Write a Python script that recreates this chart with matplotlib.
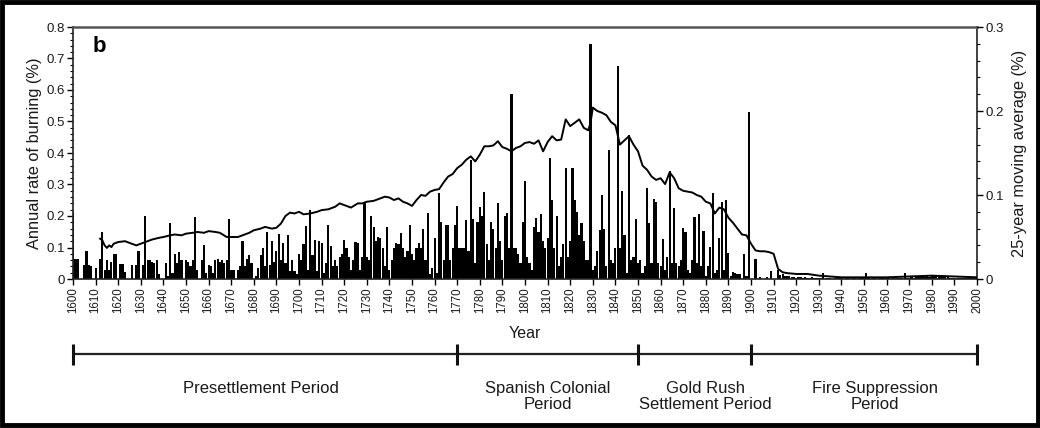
import matplotlib
matplotlib.use("Agg")
import matplotlib.pyplot as plt
from matplotlib.patches import Rectangle
from matplotlib.ticker import MultipleLocator, FuncFormatter
import numpy as np

plt.rcParams['font.family'] = ['Liberation Sans', 'DejaVu Sans']

# ---- data -------------------------------------------------------------
years = list(range(1600, 2001))
burn_rate = (
    [0.214, 0.065, 0.065, 0, 0, 0.045, 0.088, 0.045, 0.04, 0] +
    [0.035, 0, 0.062, 0.15, 0.03, 0.06, 0.03, 0.055, 0.08, 0.078] +
    [0, 0.048, 0.048, 0.022, 0, 0, 0.045, 0, 0.045, 0.09] +
    [0, 0.045, 0.2, 0.06, 0.06, 0.055, 0.05, 0.06, 0.015, 0] +
    [0, 0.05, 0.01, 0.178, 0.02, 0.078, 0.05, 0.085, 0.06, 0] +
    [0.06, 0.055, 0.04, 0.06, 0.197, 0.03, 0, 0.06, 0.108, 0.02] +
    [0.045, 0.04, 0.02, 0.06, 0.065, 0.055, 0.06, 0.05, 0.06, 0.19] +
    [0.03, 0.03, 0, 0.03, 0.04, 0.122, 0.04, 0.065, 0.075, 0.05] +
    [0, 0.01, 0.035, 0.075, 0.097, 0.04, 0.15, 0.045, 0.12, 0.055] +
    [0.088, 0.143, 0.06, 0.115, 0.05, 0.14, 0.025, 0.06, 0.025, 0.015] +
    [0.08, 0.06, 0.11, 0.168, 0.03, 0.22, 0.075, 0.125, 0.025, 0.12] +
    [0.115, 0.02, 0.05, 0.17, 0.105, 0.04, 0.06, 0.04, 0.07, 0.08] +
    [0.124, 0.1, 0.07, 0.03, 0.06, 0.117, 0.115, 0.03, 0.07, 0.24] +
    [0.07, 0.06, 0.2, 0.165, 0.12, 0.133, 0.13, 0.1, 0.04, 0.166] +
    [0.03, 0.06, 0.1, 0.113, 0.11, 0.145, 0.1, 0.07, 0.09, 0.17] +
    [0.08, 0.06, 0.1, 0.115, 0.1, 0.16, 0.06, 0.21, 0.015, 0.035] +
    [0.13, 0.02, 0.272, 0.18, 0.06, 0.17, 0.17, 0.06, 0.1, 0.17] +
    [0.232, 0.1, 0.1, 0.1, 0.187, 0.09, 0.378, 0.19, 0.05, 0.18] +
    [0.23, 0.2, 0.275, 0.11, 0.06, 0.182, 0.16, 0.1, 0.24, 0.12] +
    [0.06, 0.2, 0.208, 0.1, 0.586, 0.1, 0.1, 0.08, 0.05, 0.18] +
    [0.31, 0.071, 0.05, 0.03, 0.166, 0.193, 0.15, 0.206, 0.12, 0.1] +
    [0.13, 0.383, 0.25, 0.1, 0.2, 0.04, 0.07, 0.11, 0.351, 0.07] +
    [0.12, 0.352, 0.25, 0.213, 0.14, 0.178, 0.12, 0.06, 0.06, 0.745] +
    [0.03, 0.04, 0.09, 0.157, 0.267, 0.16, 0.04, 0.41, 0.06, 0.05] +
    [0.1, 0.677, 0.1, 0.28, 0.14, 0.02, 0.457, 0.06, 0.07, 0.19] +
    [0.05, 0.06, 0.02, 0.04, 0.288, 0.177, 0.05, 0.254, 0.245, 0.05] +
    [0.04, 0.126, 0.03, 0.07, 0.344, 0.05, 0.224, 0.05, 0.04, 0.06] +
    [0.163, 0.15, 0.03, 0.02, 0.06, 0.198, 0.05, 0.206, 0.04, 0.152] +
    [0.01, 0.04, 0.103, 0.274, 0.02, 0.03, 0.131, 0.245, 0.03, 0.25] +
    [0.084, 0.01, 0.023, 0.02, 0.015, 0.015, 0, 0.078, 0.01, 0.53] +
    [0, 0, 0.063, 0, 0.005, 0, 0, 0.005, 0, 0.025] +
    [0, 0, 0.03, 0.012, 0.015, 0.01, 0.008, 0.01, 0.005, 0.006] +
    [0.004, 0.005, 0.006, 0.004, 0.005, 0.003, 0.004, 0.005, 0.003, 0.004] +
    [0.003, 0.004, 0.02, 0.003, 0.002, 0.002, 0.001, 0.002, 0.002, 0.002] +
    [0.002, 0.001, 0.002, 0.002, 0.001, 0.002, 0.002, 0.001, 0.002, 0.002] +
    [0.002, 0.018, 0.002, 0.001, 0.002, 0.002, 0.001, 0.002, 0.002, 0.002] +
    [0.002, 0.002, 0.001, 0.002, 0.002, 0.002, 0.003, 0.002, 0.018, 0.004] +
    [0.004, 0.005, 0.004, 0.006, 0.005, 0.006, 0.008, 0.007, 0.008, 0.007] +
    [0.01, 0.009, 0.008, 0.01, 0.009, 0.01, 0.008, 0.005, 0.004, 0.003] +
    [0.003, 0.002, 0.003, 0.002, 0.002, 0.003, 0.002, 0.002, 0.002, 0.002] +
    [0.002]
)

ma_years = [1612, 1613, 1614, 1615, 1616, 1617, 1618, 1620, 1623, 1625, 1628, 1630,
            1633, 1635, 1638, 1640, 1643, 1645, 1648, 1650, 1653, 1655, 1658, 1660,
            1663, 1665, 1668, 1670, 1673, 1675, 1678, 1680, 1683, 1685, 1688, 1690,
            1692, 1694, 1696, 1698, 1700, 1702, 1705, 1708, 1710, 1713, 1716, 1718,
            1720, 1723, 1726, 1728, 1730, 1733, 1736, 1738, 1740, 1742, 1744, 1746,
            1748, 1750, 1752, 1754, 1756, 1758, 1760, 1762, 1764, 1766, 1768, 1770,
            1772, 1774, 1776, 1778, 1780, 1782, 1784, 1786, 1788, 1790, 1792, 1794,
            1796, 1798, 1800, 1802, 1804, 1806, 1808, 1810, 1812, 1814, 1816, 1818,
            1820, 1822, 1824, 1826, 1828, 1829, 1830, 1832, 1834, 1836, 1838, 1840,
            1842, 1844, 1846, 1848, 1850, 1852, 1854, 1856, 1858, 1860, 1862, 1864,
            1866, 1868, 1870, 1872, 1874, 1876, 1878, 1880, 1882, 1884, 1886, 1888,
            1890, 1892, 1894, 1896, 1898, 1900, 1902, 1904, 1906, 1908, 1910, 1912,
            1914, 1916, 1920, 1925, 1930, 1935, 1940, 1950, 1960, 1970, 1980, 1990,
            2000]
ma_values = [0.048, 0.046, 0.040, 0.037, 0.040, 0.038, 0.042, 0.044, 0.045, 0.043, 0.040, 0.042,
             0.045, 0.047, 0.049, 0.050, 0.052, 0.053, 0.052, 0.054, 0.055, 0.056, 0.055, 0.057,
             0.056, 0.055, 0.050, 0.050, 0.050, 0.052, 0.055, 0.058, 0.060, 0.062, 0.060, 0.061,
             0.066, 0.075, 0.079, 0.078, 0.080, 0.077, 0.078, 0.080, 0.082, 0.083, 0.086, 0.090,
             0.088, 0.085, 0.090, 0.090, 0.092, 0.093, 0.096, 0.098, 0.097, 0.094, 0.096, 0.092,
             0.090, 0.087, 0.094, 0.100, 0.099, 0.104, 0.106, 0.107, 0.115, 0.122, 0.125, 0.132,
             0.136, 0.142, 0.146, 0.140, 0.148, 0.158, 0.158, 0.159, 0.164, 0.157, 0.155, 0.152,
             0.156, 0.158, 0.162, 0.163, 0.161, 0.165, 0.152, 0.163, 0.170, 0.165, 0.166, 0.190,
             0.182, 0.186, 0.190, 0.180, 0.177, 0.186, 0.204, 0.200, 0.198, 0.195, 0.187, 0.183,
             0.160, 0.165, 0.170, 0.160, 0.152, 0.135, 0.130, 0.122, 0.118, 0.120, 0.113, 0.127,
             0.120, 0.108, 0.105, 0.104, 0.103, 0.100, 0.098, 0.092, 0.090, 0.078, 0.085, 0.083,
             0.073, 0.067, 0.060, 0.053, 0.052, 0.042, 0.034, 0.033, 0.033, 0.032, 0.030, 0.012,
             0.008, 0.007, 0.006, 0.006, 0.004, 0.003, 0.002, 0.002, 0.002, 0.003, 0.004, 0.003,
             0.002]

period_bounds = [1600, 1770, 1850, 1900, 2000]
period_labels = ["Presettlement Period", "Spanish Colonial\nPeriod",
                 "Gold Rush\nSettlement Period", "Fire Suppression\nPeriod"]
period_label_x = [1683, 1810, 1880, 1955]

# ---- figure -----------------------------------------------------------
W, H = 1040, 428
fig = plt.figure(figsize=(W / 100, H / 100), dpi=100)
fig.patch.set_facecolor('white')

def fx(px): return px / W
def fy(py): return 1 - py / H

ax = fig.add_axes([fx(73), fy(279), fx(977) - fx(73), fy(27) - fy(279)])
ax.bar(years, burn_rate, width=0.95, color='black', linewidth=0, align='center')
ax.set_xlim(1600, 2000)
ax.set_ylim(0, 0.8)

ax.xaxis.set_major_locator(MultipleLocator(10))
ax.yaxis.set_major_locator(MultipleLocator(0.1))
ax.yaxis.set_minor_locator(MultipleLocator(0.02))
fmt = FuncFormatter(lambda v, p: "0" if abs(v) < 1e-9 else f"{v:.1f}")
ax.yaxis.set_major_formatter(fmt)
ax.tick_params(axis='x', which='major', direction='out', length=4, width=1,
               labelsize=8.3, rotation=90, pad=2, labelcolor='#1a1a1a')
ax.tick_params(axis='y', which='major', direction='out', length=4, width=1,
               labelsize=9.5, pad=2, labelcolor='#1a1a1a')
ax.tick_params(axis='y', which='minor', direction='out', length=2.5, width=0.8)
for s in ax.spines.values():
    s.set_linewidth(1.2)
    s.set_color('#222222')
ax.spines['top'].set_color('#555555')
ax.spines['top'].set_linewidth(1.8)
ax.set_ylabel("Annual rate of burning (%)", fontsize=11.8, labelpad=3, color='#1a1a1a')
ax.set_xlabel("Year", fontsize=11.5, labelpad=9, color='#1a1a1a')
ax.text(0.022, 0.965, "b", transform=ax.transAxes, fontsize=16, fontweight='bold',
        ha='left', va='top')

axr = ax.twinx()
axr.plot(ma_years, ma_values, color='black', linewidth=1.4)
axr.set_ylim(0, 0.3)
axr.yaxis.set_major_locator(MultipleLocator(0.1))
axr.yaxis.set_minor_locator(MultipleLocator(0.02))
axr.yaxis.set_major_formatter(fmt)
axr.tick_params(axis='y', which='major', direction='out', length=4, width=1,
                labelsize=9.5, pad=2, labelcolor='#1a1a1a')
axr.tick_params(axis='y', which='minor', direction='out', length=2.5, width=0.8)
for s in axr.spines.values():
    s.set_visible(False)
axr.set_ylabel("25-year moving average (%)", fontsize=11.8, labelpad=6, color='#1a1a1a')

# ---- period timeline --------------------------------------------------
axt = fig.add_axes([fx(73), fy(428), fx(977) - fx(73), fy(335) - fy(428)])
axt.set_xlim(1600, 2000)
axt.set_ylim(428, 335)
axt.axis('off')
axt.hlines(354, period_bounds[0], period_bounds[-1], color='#222222', linewidth=1.6,
           clip_on=False)
axt.vlines(period_bounds, 344, 365, color='#111111', linewidth=2.2, clip_on=False)
for lx, lab in zip(period_label_x, period_labels):
    axt.text(lx, 381, lab, ha='center', va='top', fontsize=12, linespacing=1.1,
             color='#1a1a1a')

# outer frame
fig.patches.append(Rectangle((fx(2), fy(425)), fx(1036), fy(2) - fy(425),
                             transform=fig.transFigure, fill=False,
                             edgecolor='black', linewidth=3.5))

fig.savefig("out.png", dpi=100)
